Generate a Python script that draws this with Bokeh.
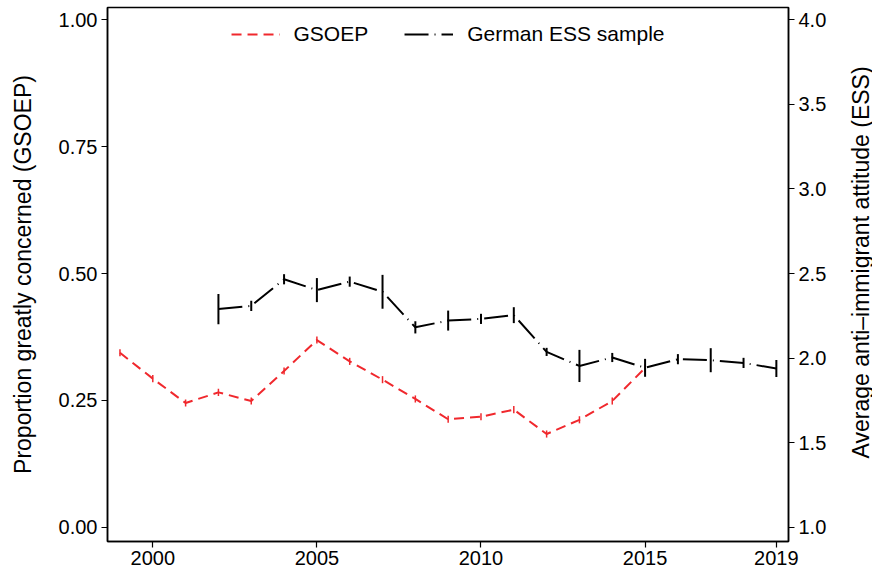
import math
from bokeh.plotting import figure
from bokeh.layouts import row
from bokeh.models import (Range1d, LinearAxis, ColumnDataSource, Legend, LegendItem,
                          FixedTicker, NumeralTickFormatter)
from bokeh.core.properties import value
from bokeh.embed import file_html
from bokeh.resources import INLINE

# GSOEP: proportion greatly concerned (left axis)
gsoep_years = [1999, 2000, 2001, 2002, 2003, 2004, 2005, 2006, 2007, 2008,
               2009, 2010, 2011, 2012, 2013, 2014, 2015]
gsoep_vals = [0.344, 0.293, 0.245, 0.266, 0.249, 0.308, 0.369, 0.327, 0.291, 0.253,
              0.213, 0.218, 0.232, 0.184, 0.212, 0.249, 0.314]
gsoep_err = [0.007] * 17

# ESS: average anti-immigrant attitude (right axis)
ess_years = [2002, 2003, 2004, 2005, 2006, 2007, 2008, 2009, 2010, 2011,
             2012, 2013, 2014, 2015, 2016, 2017, 2018, 2019]
ess_vals = [2.290, 2.309, 2.466, 2.402, 2.452, 2.392, 2.182, 2.222, 2.232, 2.254,
            2.037, 1.954, 2.004, 1.943, 1.994, 1.988, 1.972, 1.939]
ess_err = [0.089, 0.030, 0.030, 0.071, 0.030, 0.100, 0.036, 0.059, 0.030, 0.047,
           0.024, 0.095, 0.027, 0.053, 0.030, 0.071, 0.030, 0.050]

x_ticks = [2000, 2005, 2010, 2015, 2019]
left_ticks = [0.0, 0.25, 0.5, 0.75, 1.0]
right_ticks = [1.0, 1.5, 2.0, 2.5, 3.0, 3.5, 4.0]

left_title = "Proportion greatly concerned (GSOEP)"
right_title = "Average anti\u2013immigrant attitude (ESS)"

RED = "#f0282d"
FONT = "Liberation Sans"

X0, X1 = 1998.62, 2019.37
Y0, Y1 = -0.0276, 1.0237

H = 574
TOP, BOTTOM = 7, 33

p = figure(width=848, height=H, output_backend="svg", toolbar_location=None,
           x_range=Range1d(X0, X1), y_range=Range1d(Y0, Y1),
           min_border_left=107, min_border_right=60, min_border_top=TOP,
           min_border_bottom=BOTTOM)
p.extra_y_ranges = {"ess": Range1d(1 + 3 * Y0, 1 + 3 * Y1)}

p.xgrid.visible = False
p.ygrid.visible = False
p.outline_line_color = "black"
p.outline_line_width = 1.5
p.background_fill_color = "white"
p.border_fill_color = "white"

gs = ColumnDataSource(dict(x=gsoep_years, y=gsoep_vals,
                           lo=[v - e for v, e in zip(gsoep_vals, gsoep_err)],
                           hi=[v + e for v, e in zip(gsoep_vals, gsoep_err)]))
es = ColumnDataSource(dict(x=ess_years, y=ess_vals,
                           lo=[v - e for v, e in zip(ess_vals, ess_err)],
                           hi=[v + e for v, e in zip(ess_vals, ess_err)]))

r_g = p.line("x", "y", source=gs, line_color=RED, line_width=2, line_dash="10 6")
p.segment(x0="x", x1="x", y0="lo", y1="hi", source=gs, line_color=RED, line_width=1.5)

r_e = p.line("x", "y", source=es, line_color="black", line_width=2,
             line_dash="24 6 1 6", y_range_name="ess")
p.segment(x0="x", x1="x", y0="lo", y1="hi", source=es, line_color="black",
          line_width=2, y_range_name="ess")

def style(ax):
    ax.axis_line_color = "black"
    ax.axis_line_width = 1.5
    ax.major_tick_line_color = "black"
    ax.major_tick_line_width = 1.2
    ax.major_tick_out = 6
    ax.major_tick_in = 0
    ax.minor_tick_line_color = None
    ax.major_label_text_font = FONT
    ax.major_label_text_font_size = "20px"
    ax.major_label_text_color = "black"
    ax.axis_label_text_font = FONT
    ax.axis_label_text_font_size = "23px"
    ax.axis_label_text_font_style = "normal"
    ax.axis_label_text_color = "black"
    ax.major_label_standoff = 4

p.xaxis.ticker = FixedTicker(ticks=x_ticks)
style(p.xaxis[0])
p.xaxis.major_label_standoff = 3

p.yaxis.ticker = FixedTicker(ticks=left_ticks)
p.yaxis.formatter = NumeralTickFormatter(format="0.00")
p.yaxis.axis_label = left_title
style(p.yaxis[0])
p.yaxis.axis_label_standoff = 20

ax_r = LinearAxis(y_range_name="ess", ticker=FixedTicker(ticks=right_ticks),
                  formatter=NumeralTickFormatter(format="0.0"))
style(ax_r)
p.add_layout(ax_r, "right")

legend = Legend(items=[LegendItem(label="GSOEP", renderers=[r_g]),
                       LegendItem(label="German ESS sample", renderers=[r_e])],
                location="top_center", orientation="horizontal")
legend.border_line_color = None
legend.background_fill_alpha = 0
legend.label_text_font = FONT
legend.label_text_font_size = "21px"
legend.label_text_color = "black"
legend.glyph_width = 49
legend.label_standoff = 14
legend.spacing = 36
legend.margin = 15
legend.padding = 4
p.add_layout(legend, "center")

# narrow strip holding the right-axis title, reading bottom-to-top
p2 = figure(width=24, height=H, output_backend="svg", toolbar_location=None,
            x_range=Range1d(0, 1), y_range=Range1d(0, 1),
            min_border_left=0, min_border_right=0, min_border_top=0, min_border_bottom=0)
p2.axis.visible = False
p2.grid.visible = False
p2.outline_line_color = None
p2.background_fill_color = "white"
p2.border_fill_color = "white"
mid = 1 - (TOP + (H - TOP - BOTTOM) / 2) / H
p2.text(x=[0.5], y=[mid], text=[right_title], angle=math.pi / 2,
        text_align="center", text_baseline="middle",
        text_font=value(FONT), text_font_size="23px", text_color="black")

layout = row(p, p2, spacing=0)
open("out.html", "w").write(file_html(layout, INLINE))
